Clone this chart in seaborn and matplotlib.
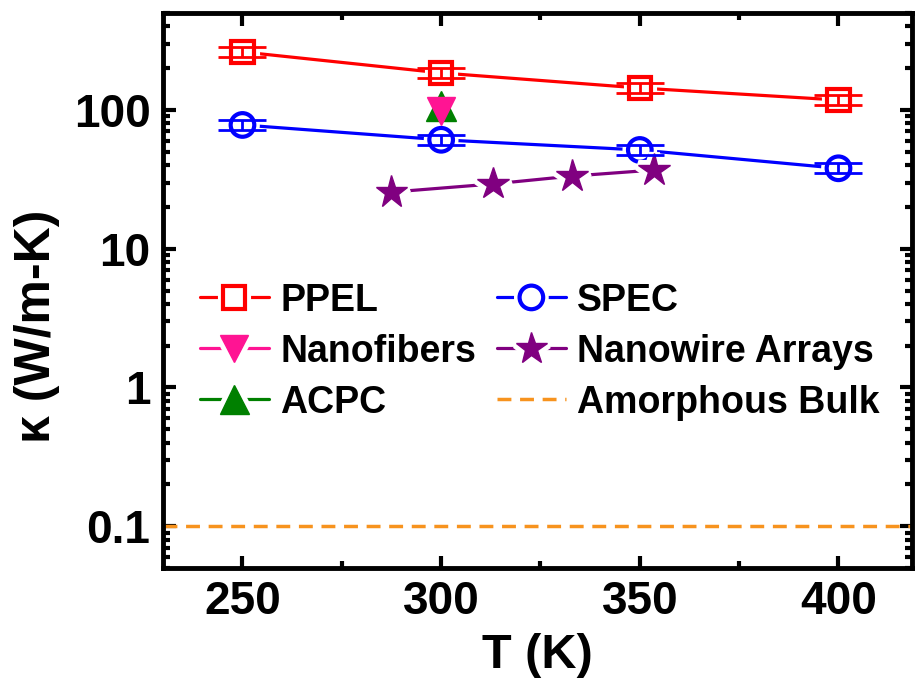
"""
Thermal conductivity vs temperature for polyethylene samples (log scale)
"""
import matplotlib
matplotlib.use('Agg')
import matplotlib.pyplot as plt
import matplotlib.patheffects as pe
import numpy as np
import seaborn as sns

# ---- data ----
ppel_T = [250, 300, 350, 400]
ppel_k = [262, 185, 144, 118]

spec_T = [250, 300, 350, 400]
spec_k = [78, 61, 51.5, 38]

nanofiber_T = [300]
nanofiber_k = [98]

acpc_T = [300]
acpc_k = [106]

nanowire_T = [287.5, 313, 333, 353.5]
nanowire_k = [25.6, 29.3, 33.4, 36.9]

amorphous_k = 0.1
err_frac = 0.085

x_ticks = [250, 300, 350, 400]
y_ticks = [0.1, 1, 10, 100]
y_tick_labels = ['0.1', '1', '10', '100']

sns.set_style('ticks')
plt.rcParams['font.family'] = ['Liberation Sans', 'DejaVu Sans']
plt.rcParams['font.weight'] = 'bold'
plt.rcParams['axes.labelweight'] = 'bold'
plt.rcParams['text.color'] = 'black'
plt.rcParams['axes.labelcolor'] = 'black'
plt.rcParams['xtick.color'] = 'black'
plt.rcParams['ytick.color'] = 'black'

fig = plt.figure(figsize=(9.15, 6.93), dpi=100)
ax = fig.add_axes([163 / 915, 125 / 693, 749 / 915, 555 / 693])

halo = [pe.Stroke(linewidth=8, foreground='white'), pe.Normal()]


def draw_series(T, k, color, marker, ms, label, open_marker=False, errbars=False, z=3):
    face = 'white' if open_marker else color
    sns.lineplot(x=T, y=k, color=color, marker=marker, markersize=ms,
                 markerfacecolor=face, markeredgecolor=color,
                 markeredgewidth=3 if open_marker else 1,
                 linewidth=2.3, ax=ax, zorder=z, path_effects=halo)
    line = ax.lines[-1]
    line.set_label(label)
    if errbars:
        k = np.array(k)
        ax.errorbar(T, k, yerr=[k - k / (1 + err_frac), k * (1 + err_frac) - k],
                    fmt='none', ecolor=color, elinewidth=2, capsize=17,
                    capthick=2, zorder=z + 0.5)
    return line


amorph = ax.axhline(amorphous_k, color='#f7931e', linewidth=2.5,
                    dashes=(4, 2.5), zorder=1, label='Amorphous Bulk')

h_ppel = draw_series(ppel_T, ppel_k, '#ff0000', 's', 16, 'PPEL',
                     open_marker=True, errbars=True, z=4)
h_spec = draw_series(spec_T, spec_k, '#0000ff', 'o', 17, 'SPEC',
                     open_marker=True, errbars=True, z=3)
h_nw = draw_series(nanowire_T, nanowire_k, '#800080', '*', 24,
                   'Nanowire Arrays', z=3)
h_acpc = draw_series(acpc_T, acpc_k, '#008000', '^', 21, 'ACPC', z=5)
h_nf = draw_series(nanofiber_T, nanofiber_k, '#ff1493', 'v', 20,
                   'Nanofibers', z=6)

ax.set_yscale('log')
ax.set_xlim(230, 418.5)
ax.set_ylim(0.05, 500)
ax.set_xticks(x_ticks)
ax.set_xticks([275, 325, 375], minor=True)
ax.set_yticks(y_ticks)
ax.set_yticklabels(y_tick_labels)
ax.yaxis.set_minor_locator(matplotlib.ticker.LogLocator(base=10, subs=np.arange(2, 10)))
ax.yaxis.set_minor_formatter(matplotlib.ticker.NullFormatter())

ax.tick_params(which='both', direction='in', top=True, right=True,
               labelsize=33, width=3)
ax.tick_params(which='major', length=9, pad=9)
ax.tick_params(which='minor', length=5)
for s in ax.spines.values():
    s.set_linewidth(3.5)
    s.set_color('black')

ax.set_xlabel('T (K)', fontsize=35, labelpad=6)
ax.set_ylabel('κ (W/m-K)', fontsize=36)
ax.yaxis.set_label_coords(-0.137, 0.436)

handles = [h_ppel, h_nf, h_acpc, h_spec, h_nw, amorph]
ax.legend(handles=handles, labels=[h.get_label() for h in handles],
          ncol=2, loc='center', bbox_to_anchor=(0.503, 0.39),
          frameon=False, fontsize=27, handlelength=1.85, handletextpad=0.3,
          columnspacing=0.55, labelspacing=0.4)

# the single-point markers overlap, so no white halo on them in the plot
# (legend copies were already made above and keep theirs)
h_nf.set_path_effects([])
h_acpc.set_path_effects([])

plt.savefig('out.png', dpi=100)
